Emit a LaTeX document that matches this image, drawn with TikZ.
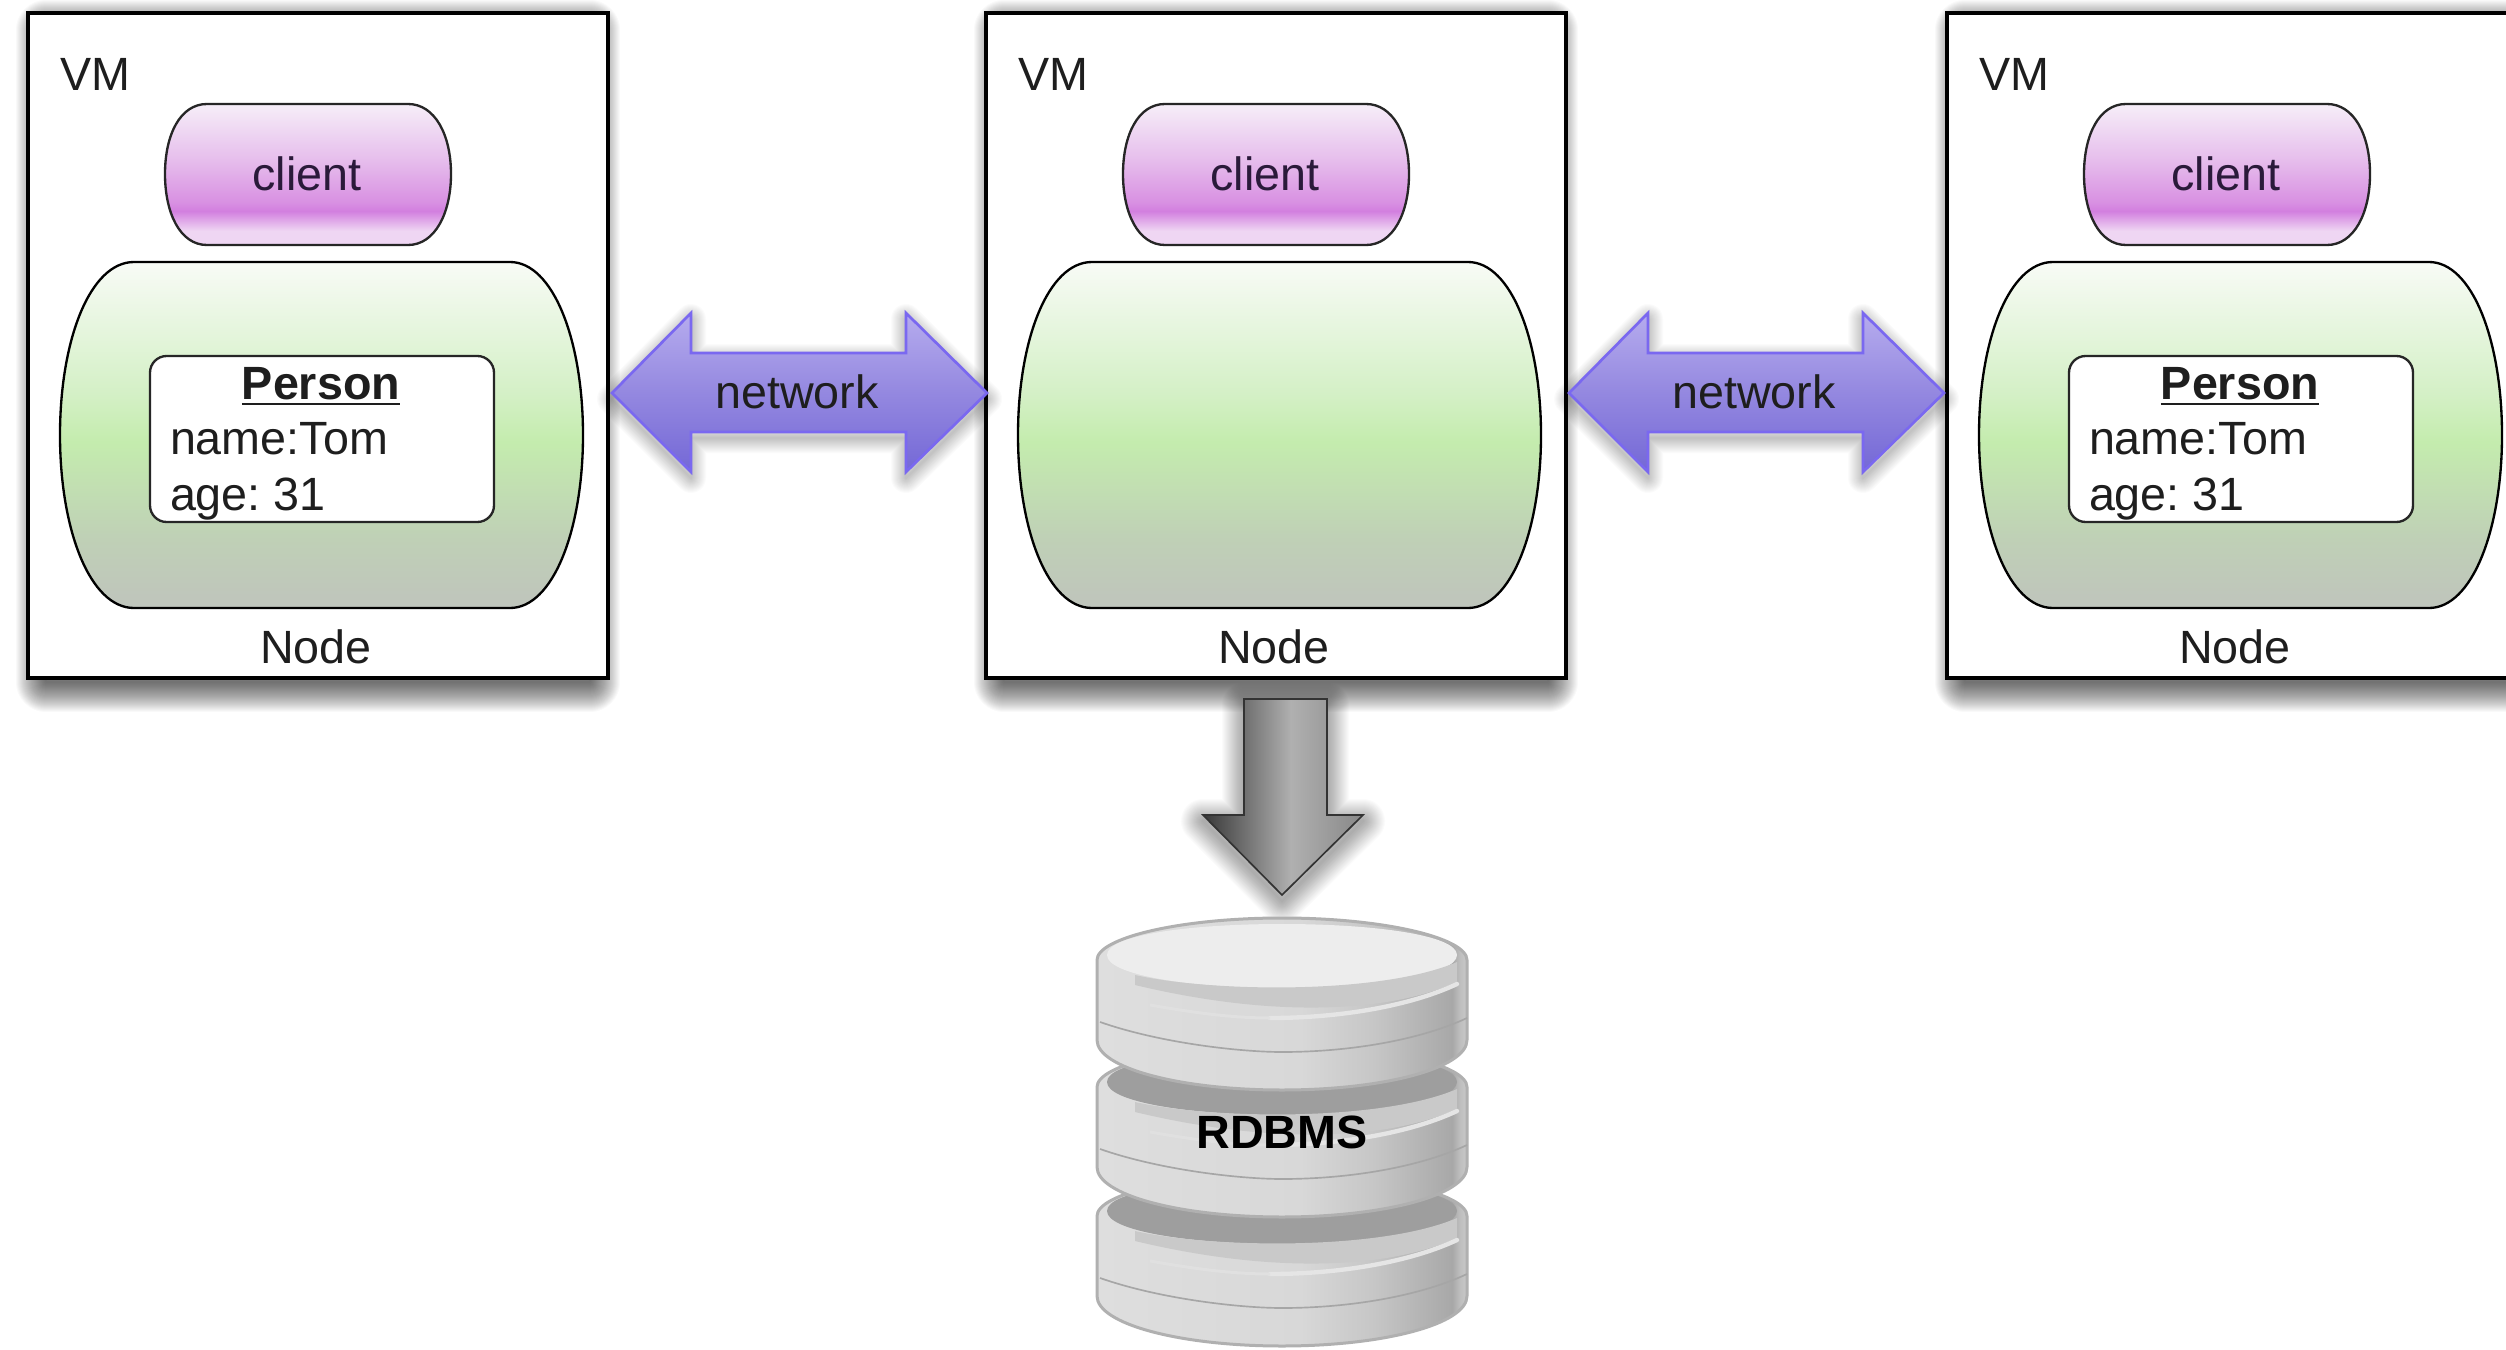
\documentclass[tikz,border=0pt]{standalone}
\usepackage{fontspec}
\setmainfont{Liberation Sans}
\definecolor{cpa}{HTML}{EFD6F3}
\definecolor{cpb}{HTML}{D27FDF}
\definecolor{cpc}{HTML}{D890E2}
\definecolor{cpd}{HTML}{E6BDEC}
\definecolor{cpe}{HTML}{F6EEF8}
\definecolor{gra}{HTML}{BFC4BC}
\definecolor{grb}{HTML}{BFD0B6}
\definecolor{grc}{HTML}{C4ECAE}
\definecolor{grd}{HTML}{D4F0C6}
\definecolor{gre}{HTML}{F8FBF6}
\definecolor{nta}{HTML}{7468D6}
\definecolor{ntb}{HTML}{9488E0}
\definecolor{ntc}{HTML}{B6ACEE}
\definecolor{dna}{HTML}{383838}
\definecolor{dnb}{HTML}{6E6E6E}
\definecolor{dnc}{HTML}{B0B0B0}
\definecolor{dnd}{HTML}{888888}
\definecolor{dka}{HTML}{DEDEDE}
\definecolor{dkb}{HTML}{D8D8D8}
\definecolor{dkc}{HTML}{C6C6C6}
\definecolor{dkd}{HTML}{A8A8A8}
\definecolor{dke}{HTML}{BEBEBE}
\definecolor{dkf}{HTML}{C8C8C8}
\definecolor{netline}{HTML}{7A68F0}
\definecolor{ink}{HTML}{1E1E1E}
\definecolor{clientink}{HTML}{2A1A3A}
\pgfdeclareverticalshading{clientshade}{100bp}{color(0bp)=(cpa); color(25bp)=(cpa); color(30bp)=(cpa); color(37bp)=(cpb); color(40bp)=(cpc); color(55bp)=(cpd); color(75bp)=(cpe); color(100bp)=(cpe)}
\pgfdeclareverticalshading{greenshade}{100bp}{color(0bp)=(gra); color(25bp)=(gra); color(35bp)=(grb); color(49bp)=(grc); color(56bp)=(grd); color(75bp)=(gre); color(100bp)=(gre)}
\pgfdeclareverticalshading{netshade}{100bp}{color(0bp)=(nta); color(25bp)=(nta); color(50bp)=(ntb); color(75bp)=(ntc); color(100bp)=(ntc)}
\pgfdeclarehorizontalshading{downshade}{100bp}{color(0bp)=(dna); color(25bp)=(dna); color(37.5bp)=(dnb); color(52.5bp)=(dnc); color(75bp)=(dnd); color(100bp)=(dnd)}
\pgfdeclarehorizontalshading{diskshade}{100bp}{color(0bp)=(dka); color(25bp)=(dka); color(52.5bp)=(dkb); color(62.5bp)=(dkc); color(73bp)=(dkd); color(74bp)=(dke); color(75bp)=(dkf); color(100bp)=(dkf)}
\tikzset{
  txt/.style={inner sep=0pt,outer sep=0pt,font=\fontsize{14}{16}\selectfont\frenchspacing,text=ink},
  vmbox/.style={draw=black,line width=1.1pt,fill=white},
  clientshape/.style={draw=black!85,line width=.7pt,shading=clientshade},
  greenshape/.style={draw=black,line width=.7pt,shading=greenshade},
  personbox/.style={draw=black!85,line width=.7pt,fill=white,rounded corners=5pt},
  netarrow/.style={draw=netline,line width=.8pt,line join=miter,shading=netshade},
  downarrow/.style={draw=black!80,line width=.5pt,shading=downshade},
  diskbody/.style={draw=dnc,line width=.9pt,shading=diskshade}
}
% path, vertical offset, largest stroke width in pixels, opacity of one layer
\newcommand{\softshadow}[4]{%
  \foreach \w in {2,4,...,#3}{\path[draw=black,draw opacity=#4,line join=round,line width=\w*.3pt,shift={(0,#2)}] #1;}%
}
\newcommand{\vmgroup}[3]{%
 \begin{scope}[shift={(#2,0)}]
  \softshadow{(46,30) rectangle (590,682)}{0}{60}{.022}
  \path[vmbox] (28,13) rectangle (608,678);
  \node[txt,anchor=base west] (#1vm) at (60,91) {VM};
  \path[clientshape] (207,104) -- (408,104) .. controls (435,104) and (451,135) .. (451,174) .. controls (451,213) and (435,245) .. (408,245) -- (207,245) .. controls (180,245) and (165,213) .. (165,174) .. controls (165,135) and (180,104) .. (207,104) -- cycle;
  \node[txt,anchor=base,text=clientink] (#1client) at (307,191) {client};
  \path[greenshape] (134,262) -- (510,262) .. controls (553,262) and (583,340) .. (583,435) .. controls (583,530) and (553,608) .. (510,608) -- (134,608) .. controls (90,608) and (60,530) .. (60,435) .. controls (60,340) and (90,262) .. (134,262) -- cycle;
  #3
  \node[txt,anchor=base] (#1node) at (316,663) {Node};
 \end{scope}%
}
\newcommand{\persondata}[1]{%
  \path[personbox] (150,356) rectangle (494,522);
  \node[txt,anchor=base] (#1person) at (321,399) {\textbf{\underline{Person}}};
  \node[txt,anchor=base west] (#1name) at (170,454) {name:Tom};
  \node[txt,anchor=base west] (#1age) at (170,510) {age: 31};
}
\newcommand{\netgroup}[2]{%
 \begin{scope}[shift={(#2,0)}]
  \softshadow{(612,393)--(691,313)--(691,353)--(906,353)--(906,313)--(987,393)--(906,472)--(906,432)--(691,432)--(691,472)--cycle}{6}{30}{.016}
  \path[netarrow] (612,393)--(691,313)--(691,353)--(906,353)--(906,313)--(987,393)--(906,472)--(906,432)--(691,432)--(691,472)--cycle;
  \node[txt,anchor=base] (#1) at (797,408) {network};
 \end{scope}%
}
\newcommand{\diskunit}[2]{%
 \begin{scope}[shift={(0,#1)}]
  \path[diskbody] (1097,960) -- (1097,1040) .. controls (1097,1068) and (1180,1090) .. (1282,1090) .. controls (1384,1090) and (1467,1068) .. (1467,1040) -- (1467,960) .. controls (1467,938) and (1384,918) .. (1282,918) .. controls (1180,918) and (1097,938) .. (1097,960) -- cycle;
  \path[fill=#2] (1107,955) .. controls (1107,935) and (1190,924) .. (1282,924) .. controls (1374,924) and (1457,935) .. (1457,955) .. controls (1457,975) and (1374,988) .. (1282,988) .. controls (1190,988) and (1107,975) .. (1107,955) -- cycle;
  \path[fill=black!21] (1135,975) .. controls (1210,992) and (1380,995) .. (1457,962) -- (1457,982) .. controls (1400,1008) and (1290,1022) .. (1135,985) -- cycle;
  \draw[white!90!black,line width=1.3pt,line cap=round] (1457,984) .. controls (1410,1006) and (1340,1018) .. (1270,1018);
  \draw[white!88!black,line width=.9pt] (1270,1018) .. controls (1230,1018) and (1190,1012) .. (1150,1005);
  \draw[black!35,line width=.5pt] (1100,1022) .. controls (1160,1043) and (1240,1052) .. (1282,1052) .. controls (1350,1052) and (1420,1040) .. (1467,1018);
 \end{scope}%
}
\begin{document}
\begin{tikzpicture}[x=.3pt,y=-.3pt]
\useasboundingbox (0,0) rectangle (2506,1350);
\clip (0,0) rectangle (2506,1350);
\fill[white] (0,0) rectangle (2506,1350);
\vmgroup{a}{0}{\persondata{a}}
\vmgroup{b}{958}{}
\vmgroup{c}{1919}{\persondata{c}}
\netgroup{neta}{0}
\netgroup{netb}{957}
% arrow down to the database
\softshadow{(1244,699)--(1327,699)--(1327,815)--(1363,815)--(1282,895)--(1203,815)--(1244,815)--cycle}{6}{44}{.014}
\path[downarrow] (1244,699)--(1327,699)--(1327,815)--(1363,815)--(1282,895)--(1203,815)--(1244,815)--cycle;
% database
\diskunit{256}{black!38}
\diskunit{127}{black!38}
\diskunit{0}{black!7}
\node[txt,anchor=base,font=\fontsize{14}{16}\selectfont\bfseries,text=black] (rdbms) at (1282,1148) {RDBMS};
\end{tikzpicture}
\end{document}
